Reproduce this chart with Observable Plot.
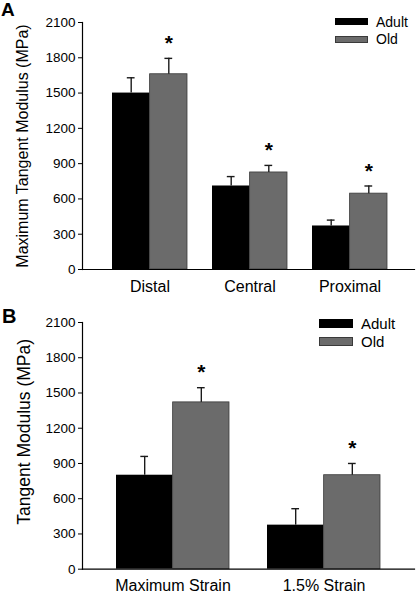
<!DOCTYPE html>
<html>
<head>
<meta charset="utf-8">
<script src="https://cdn.jsdelivr.net/npm/d3@7"></script>
<script src="https://cdn.jsdelivr.net/npm/@observablehq/plot@0.6"></script>
<style>
  html, body { margin: 0; padding: 0; background: #fff; }
  body { font-family: "Liberation Sans", Arial, sans-serif; color: #000; width: 416px; }
  .panel { position: relative; width: 416px; }
  .panel svg { display: block; }
  .tag { position: absolute; font-weight: bold; line-height: 1; }
  .leg { position: absolute; line-height: 1; white-space: nowrap; }
  .sw { position: absolute; box-sizing: border-box; }
</style>
</head>
<body>
<div id="chart"></div>
<script>
// ---- data ----
const groups = ["Adult", "Old"];
const yTicks = [0, 300, 600, 900, 1200, 1500, 1800, 2100];

const catsA = ["Distal", "Central", "Proximal"];
const adultA = [1500, 710, 370];
const adultErrA = [130, 80, 50];
const oldA = [1660, 825, 645];
const oldErrA = [135, 60, 65];
const sigA = [true, true, true];
const titleA = "Maximum Tangent Modulus (MPa)";

const catsB = ["Maximum Strain", "1.5% Strain"];
const adultB = [800, 375];
const adultErrB = [160, 140];
const oldB = [1420, 800];
const oldErrB = [125, 100];
const sigB = [true, true];
const titleB = "Tangent Modulus (MPa)";

const FONT = '"Liberation Sans", Arial, sans-serif';
const colors = {Adult: "#000000", Old: "#6b6b6b"};

function panel(o) {
  const W = 416, mL = 82, mR = 2, mT = 22;
  const xOpts = {type: "band", domain: o.cats, paddingInner: 0.25, paddingOuter: o.po, align: o.align};
  const n = o.cats.length;
  let bw;
  try {
    bw = Plot.scale({x: {...xOpts, range: [mL, W - mR]}}).bandwidth;
  } catch (e) { bw = undefined; }
  if (!bw) bw = (W - mL - mR) / (n - 0.25 + 2 * o.po) * 0.75;
  const rows = o.cats.flatMap((c, i) => [
    {cat: c, group: "Adult", v: o.adult[i], e: o.adultErr[i], sig: false},
    {cat: c, group: "Old", v: o.old[i], e: o.oldErr[i], sig: o.sig[i]}
  ]);
  const adultRows = rows.filter(d => d.group === "Adult");
  const oldRows = rows.filter(d => d.group === "Old");
  const capInset = (bw / 2 - 8) / 2;
  const errMarks = [[adultRows, -bw / 4], [oldRows, bw / 4]].flatMap(([data, dx]) => [
    Plot.ruleX(data, {x: "cat", y1: "v", y2: d => d.v + d.e, dx, stroke: "#1a1a1a", strokeWidth: 1.4}),
    Plot.tickY(data, {x: "cat", y: d => d.v + d.e, dx, stroke: "#1a1a1a", strokeWidth: 1.4,
      insetLeft: bw / 4 + capInset, insetRight: bw / 4 + capInset})
  ]);
  const svg = Plot.plot({
    width: W, height: o.height,
    marginLeft: mL, marginRight: mR, marginTop: mT, marginBottom: o.mB,
    style: {fontFamily: FONT, background: "#fff", color: "#000", overflow: "visible"},
    x: xOpts,
    y: {domain: [0, 2100]},
    marks: [
      Plot.barY(adultRows, {x: "cat", y: "v", fill: colors.Adult, insetRight: bw / 2}),
      Plot.barY(oldRows, {x: "cat", y: "v", fill: colors.Old, stroke: "#3a3a3a", strokeWidth: 0.8, insetLeft: bw / 2}),
      ...errMarks,
      Plot.text(oldRows.filter(d => d.sig), {x: "cat", y: d => d.v + d.e, dx: bw / 4, dy: -15,
        text: () => "*", fontSize: 21, fontWeight: "bold", fill: "#000"}),
      Plot.frame({anchor: "left", stroke: "#000", strokeWidth: 1.2}),
      Plot.frame({anchor: "bottom", stroke: "#000", strokeWidth: 1.2}),
      Plot.axisY({ticks: yTicks, tickFormat: d => String(d), tickSize: 4, tickPadding: 3,
        fontSize: 13.5, label: null, stroke: "#000"}),
      Plot.axisX({tickSize: 0, tickPadding: o.xPad, fontSize: 16, label: null}),
      Plot.text([o.title], {frameAnchor: "left", textAnchor: "middle", rotate: -90,
        dx: o.titleDx, dy: o.titleDy, fontSize: o.titleSize, fill: "#000", text: d => d})
    ]
  });
  const div = document.createElement("div");
  div.className = "panel";
  div.style.height = o.height + "px";
  div.appendChild(svg);
  const tag = document.createElement("div");
  tag.className = "tag";
  tag.textContent = o.tag;
  tag.style.left = o.tagPos[0] + "px";
  tag.style.top = o.tagPos[1] + "px";
  tag.style.fontSize = o.tagSize + "px";
  div.appendChild(tag);
  groups.forEach((g, i) => {
    const L = o.legend;
    const sw = document.createElement("div");
    sw.className = "sw";
    sw.style.left = L.x + "px";
    sw.style.top = (L.y[i] - L.h / 2) + "px";
    sw.style.width = L.w + "px";
    sw.style.height = L.h + "px";
    sw.style.background = colors[g];
    if (g === "Old") sw.style.border = "1px solid #3a3a3a";
    div.appendChild(sw);
    const t = document.createElement("div");
    t.className = "leg";
    t.textContent = g;
    t.style.left = L.tx + "px";
    t.style.fontSize = L.fs + "px";
    t.style.top = (L.y[i] - L.fs * 0.5) + "px";
    div.appendChild(t);
  });
  return div;
}

const root = document.getElementById("chart");
root.appendChild(panel({
  cats: catsA, adult: adultA, adultErr: adultErrA, old: oldA, oldErr: oldErrA, sig: sigA,
  height: 300, mB: 31, po: 0.28, align: 0.53, xPad: 11,
  title: titleA, titleDx: -60, titleDy: 0, titleSize: 16,
  tag: "A", tagPos: [1, 0], tagSize: 19,
  legend: {x: 335, w: 33, h: 7, y: [21.7, 39.2], tx: 376, fs: 14}
}));
root.appendChild(panel({
  cats: catsB, adult: adultB, adultErr: adultErrB, old: oldB, oldErr: oldErrB, sig: sigB,
  height: 293, mB: 24.3, po: 0.224, align: 0.5, xPad: 10,
  title: titleB, titleDx: -58, titleDy: -14, titleSize: 17.5,
  tag: "B", tagPos: [2, 6], tagSize: 20,
  legend: {x: 319, w: 34, h: 9, y: [23.4, 41.4], tx: 361, fs: 15}
}));
</script>
</body>
</html>
